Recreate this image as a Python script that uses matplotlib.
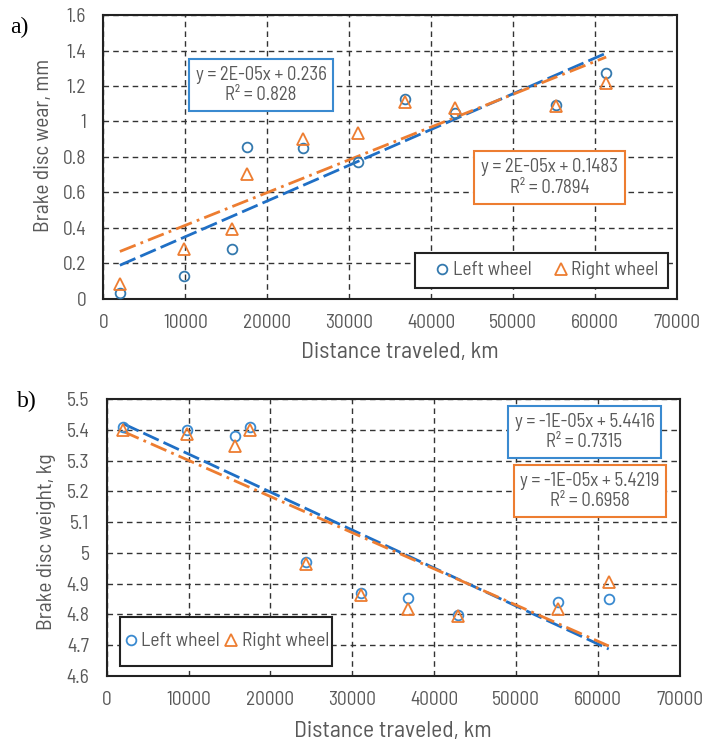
import numpy as np
import matplotlib
matplotlib.use("Agg")
import matplotlib.pyplot as plt
from matplotlib.patches import Rectangle
from matplotlib.ticker import FixedLocator, FuncFormatter

plt.rcParams['font.family'] = ['Barlow Semi Condensed', 'Liberation Sans', 'DejaVu Sans']

# ---------------- data ----------------
distance_km = [2000, 9800, 15700, 17500, 24350, 31050, 36850, 42900, 55200, 61350]

wear_left = [0.036, 0.13, 0.283, 0.855, 0.853, 0.772, 1.127, 1.05, 1.095, 1.271]
wear_right = [0.083, 0.283, 0.393, 0.704, 0.90, 0.933, 1.108, 1.074, 1.087, 1.219]

weight_left = [5.41, 5.40, 5.381, 5.41, 4.97, 4.870, 4.854, 4.797, 4.841, 4.851]
weight_right = [5.399, 5.386, 5.348, 5.40, 4.964, 4.862, 4.818, 4.795, 4.818, 4.905]

series_names = ["Left wheel", "Right wheel"]
x_ticks = [0, 10000, 20000, 30000, 40000, 50000, 60000, 70000]
wear_ticks = [0, 0.2, 0.4, 0.6, 0.8, 1.0, 1.2, 1.4, 1.6]
weight_ticks = [4.6, 4.7, 4.8, 4.9, 5.0, 5.1, 5.2, 5.3, 5.4, 5.5]

eq_a = ["y = 2E-05x + 0.236\nR² = 0.828", "y = 2E-05x + 0.1483\nR² = 0.7894"]
eq_b = ["y = -1E-05x + 5.4416\nR² = 0.7315", "y = -1E-05x + 5.4219\nR² = 0.6958"]

# ---------------- style ----------------
BLUE_A = '#3479AE'
BLUE_B = '#3A8AD0'
BLUE_L = '#1F6FC5'
ORANGE = '#ED7D31'
GREY = '#595959'

fig = plt.figure(figsize=(7.04, 7.43), dpi=100)
ax_a = fig.add_axes([0.147, 0.5976, 0.8147, 0.3822])
ax_b = fig.add_axes([0.1517, 0.0902, 0.8135, 0.3728])


def style_axes(ax, yticks, ylabel, xlab_xy, ylab_xy, ylab_size):
    ax.set_xlim(0, 70000)
    ax.set_ylim(yticks[0], yticks[-1])
    ax.xaxis.set_major_locator(FixedLocator(x_ticks))
    ax.yaxis.set_major_locator(FixedLocator(yticks))
    ax.xaxis.set_major_formatter(FuncFormatter(lambda v, p: f"{v:.0f}"))
    ax.yaxis.set_major_formatter(FuncFormatter(lambda v, p: f"{round(v, 2):g}"))
    ax.grid(True, color='#333333', linestyle=(0, (4, 3)), linewidth=1.0)
    ax.set_axisbelow(True)
    ax.tick_params(length=0, labelsize=14, colors=GREY)
    ax.tick_params(axis='x', pad=11)
    ax.tick_params(axis='y', pad=12.5)
    for s in ax.spines.values():
        s.set_color('#222222')
        s.set_linewidth(1.5)
    ax.set_xlabel("Distance traveled, km", fontsize=17, color=GREY)
    ax.set_ylabel(ylabel, fontsize=ylab_size, color=GREY)
    ax.xaxis.set_label_coords(*xlab_xy)
    ax.yaxis.set_label_coords(*ylab_xy)
    ax.xaxis.label.set_va('center')
    ax.yaxis.label.set_va('center')


def plot_series(ax, yl, yr, blue_marker):
    x = np.array(distance_km, dtype=float)
    ax.plot(x, yl, linestyle='none', marker='o', markersize=7, markerfacecolor='none',
            markeredgecolor=blue_marker, markeredgewidth=1.3, label=series_names[0], zorder=4)
    ax.plot(x, yr, linestyle='none', marker='^', markersize=8, markerfacecolor='none',
            markeredgecolor=ORANGE, markeredgewidth=1.3, label=series_names[1], zorder=4)
    xs = np.array([x.min(), x.max()])
    pl = np.polyfit(x, yl, 1)
    pr = np.polyfit(x, yr, 1)
    ax.plot(xs, np.polyval(pl, xs), color=BLUE_L, linewidth=2.0,
            linestyle=(0, (6.1, 1.9)), zorder=3)
    ax.plot(xs, np.polyval(pr, xs), color=ORANGE, linewidth=2.0,
            linestyle=(0, (6.1, 1.9, 1.0, 1.9)), zorder=3)


def eq_box(ax, x, y, txt, color):
    ax.text(x, y, txt, transform=ax.transAxes, ha='center', va='center',
            fontsize=13.5, color=GREY, linespacing=1.2, zorder=6,
            bbox=dict(boxstyle='square,pad=0.36', facecolor='white',
                      edgecolor=color, linewidth=1.5))


def legend_block(ax, frame, anchor, colspace, textpad):
    x0, y0, x1, y1 = frame
    ax.add_patch(Rectangle((x0, y0), x1 - x0, y1 - y0, transform=ax.transAxes,
                           facecolor='white', edgecolor='#222222', linewidth=1.5,
                           zorder=6, clip_on=False))
    leg = ax.legend(loc='center left', bbox_to_anchor=anchor, ncol=2, fontsize=14,
                    frameon=False, handlelength=0.9, handletextpad=textpad,
                    columnspacing=colspace, borderpad=0, borderaxespad=0)
    for t in leg.get_texts():
        t.set_color(GREY)
    leg.set_zorder(7)
    return leg


# ---- panel a ----
style_axes(ax_a, wear_ticks, "Brake disc wear, mm", (0.516, -0.190), (-0.105, 0.542), 15.5)
plot_series(ax_a, wear_left, wear_right, BLUE_A)
eq_box(ax_a, 0.2746, 0.7535, eq_a[0], BLUE_B)
eq_box(ax_a, 0.7777, 0.4278, eq_a[1], ORANGE)
legend_block(ax_a, (0.544, 0.039, 0.984, 0.162), (0.5745, 0.1004), 1.05, 0.11)

# ---- panel b ----
style_axes(ax_b, weight_ticks, "Brake disc weight, kg", (0.4997, -0.201), (-0.105, 0.4856), 15.5)
plot_series(ax_b, weight_left, weight_right, BLUE_B)
eq_box(ax_b, 0.834, 0.881, eq_b[0], BLUE_B)
eq_box(ax_b, 0.8437, 0.668, eq_b[1], ORANGE)
legend_block(ax_b, (0.023, 0.036, 0.393, 0.213), (0.0265, 0.1245), 0.1, 0.1)

# panel letters
fig.text(10 / 704, 1 - 27 / 743, "a)", fontsize=17, family='Liberation Serif',
         ha='left', va='center', color='black')
fig.text(17 / 704, 1 - 401 / 743, "b)", fontsize=17, family='Liberation Serif',
         ha='left', va='center', color='black')

fig.savefig("out.png", dpi=100)
